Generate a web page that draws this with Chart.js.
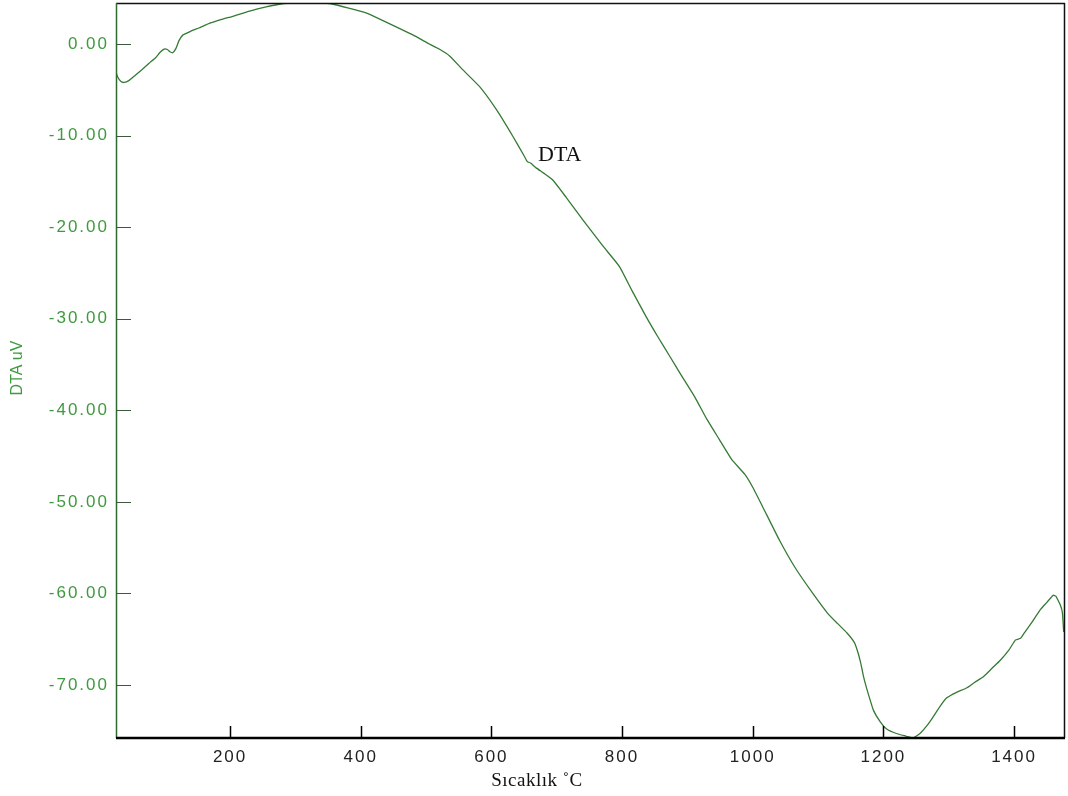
<!DOCTYPE html>
<html>
<head>
<meta charset="utf-8">
<script src="https://cdn.jsdelivr.net/npm/chart.js@4/dist/chart.umd.min.js"></script>
<style>
  html, body { margin: 0; padding: 0; background: #ffffff; }
  #wrap { width: 1068px; height: 796px; }
</style>
</head>
<body>
<div id="wrap"><canvas id="c" width="1068" height="796"></canvas></div>
<script>
// ---- data ----
const temperature = [24, 28, 33, 38, 45, 55, 65, 76, 86, 93, 99, 104, 108, 112, 117, 122, 128, 140, 152, 170, 190, 203, 230, 255, 280, 300, 320, 340, 356, 380, 408, 430, 459, 485, 505, 520, 536, 556, 582, 608, 633, 650, 655, 660, 668, 680, 694, 715, 740, 770, 796, 815, 837, 855, 873, 890, 911, 930, 949, 968, 988, 1000, 1015, 1041, 1065, 1092, 1115, 1130, 1144, 1155, 1160, 1165, 1170, 1177, 1185, 1195, 1205, 1220, 1235, 1245, 1256, 1266, 1276, 1287, 1297, 1312, 1328, 1340, 1353, 1366, 1379, 1392, 1402, 1410, 1414, 1427, 1440, 1450, 1460, 1464, 1467, 1471, 1474, 1476];
const dtaValues = [-2.8, -3.6, -4.1, -4.2, -4.0, -3.4, -2.8, -2.1, -1.5, -0.9, -0.55, -0.6, -0.85, -0.95, -0.5, 0.4, 1.0, 1.4, 1.75, 2.3, 2.75, 3.0, 3.6, 4.05, 4.4, 4.5, 4.55, 4.5, 4.37, 3.95, 3.4, 2.7, 1.7, 0.8, 0.0, -0.55, -1.3, -2.8, -4.66, -7.2, -10.1, -12.2, -12.85, -13.0, -13.5, -14.1, -14.85, -16.8, -19.2, -22.0, -24.3, -26.9, -29.8, -32.0, -34.1, -36.1, -38.5, -41.0, -43.2, -45.4, -47.0, -48.4, -50.5, -54.2, -57.2, -60.0, -62.2, -63.3, -64.3, -65.3, -66.2, -67.5, -69.2, -71.0, -72.8, -74.0, -74.8, -75.3, -75.6, -75.8, -75.3, -74.5, -73.5, -72.3, -71.4, -70.8, -70.3, -69.7, -69.1, -68.2, -67.3, -66.2, -65.1, -64.9, -64.5, -63.2, -61.8, -61.0, -60.2, -60.3, -60.7, -61.3, -62.1, -64.2];
const xTickValues = [200, 400, 600, 800, 1000, 1200, 1400];
const yTickValues = [0, -10, -20, -30, -40, -50, -60, -70];
const xAxisTitle = 'Sıcaklık ˚C';
const yAxisTitle = 'DTA uV';
const curveLabel = 'DTA';

const points = temperature.map((t, i) => ({ x: t, y: dtaValues[i] }));

const GREEN_TEXT = '#3f9a3f';
const LINE_GREEN = '#357a35';

const decorPlugin = {
  id: 'decor',
  beforeDraw(chart) {
    chart.ctx.letterSpacing = '2px';
  },
  afterDraw(chart) {
    const ctx = chart.ctx;
    const a = chart.chartArea;
    const xs = chart.scales.x, ys = chart.scales.y;
    ctx.save();
    ctx.letterSpacing = '0px';
    // top and right border
    ctx.strokeStyle = '#111';
    ctx.lineWidth = 1.5;
    ctx.beginPath();
    ctx.moveTo(a.left, a.top + 0.5); ctx.lineTo(a.right, a.top + 0.5);
    ctx.moveTo(a.right - 0.5, a.top); ctx.lineTo(a.right - 0.5, a.bottom);
    ctx.stroke();
    // left axis (green)
    ctx.strokeStyle = '#2f6a2f';
    ctx.lineWidth = 1.5;
    ctx.beginPath();
    ctx.moveTo(a.left + 0.5, a.top); ctx.lineTo(a.left + 0.5, a.bottom);
    ctx.stroke();
    // y ticks inward
    ctx.strokeStyle = '#3a5a3a';
    ctx.lineWidth = 1;
    ctx.beginPath();
    yTickValues.forEach(v => {
      const py = Math.round(ys.getPixelForValue(v)) + 0.5;
      ctx.moveTo(a.left, py); ctx.lineTo(a.left + 15, py);
    });
    ctx.stroke();
    // bottom axis (black, thick)
    ctx.strokeStyle = '#000';
    ctx.lineWidth = 2.5;
    ctx.beginPath();
    ctx.moveTo(a.left, a.bottom); ctx.lineTo(a.right, a.bottom);
    ctx.stroke();
    // x ticks inward
    ctx.lineWidth = 1.5;
    ctx.beginPath();
    xTickValues.forEach(v => {
      const px = Math.round(xs.getPixelForValue(v)) + 0.5;
      ctx.moveTo(px, a.bottom); ctx.lineTo(px, a.bottom - 12);
    });
    ctx.stroke();
    // curve label
    ctx.fillStyle = '#111';
    ctx.font = '22px "Liberation Serif", "Times New Roman", serif';
    ctx.textAlign = 'left';
    ctx.textBaseline = 'alphabetic';
    ctx.fillText(curveLabel, 538, 161);
    // x axis title
    ctx.font = '19px "Liberation Serif", "Times New Roman", serif';
    ctx.textAlign = 'center';
    ctx.textBaseline = 'middle';
    ctx.fillStyle = '#111';
    ctx.letterSpacing = '0.5px';
    ctx.fillText(xAxisTitle, 537, 781);
    // y axis title
    ctx.translate(18, 368);
    ctx.rotate(-Math.PI / 2);
    ctx.fillStyle = GREEN_TEXT;
    ctx.font = '16px "Liberation Sans", Arial, sans-serif';
    ctx.letterSpacing = '0px';
    ctx.fillText(yAxisTitle, 0, 0);
    ctx.restore();
  }
};

new Chart(document.getElementById('c'), {
  type: 'line',
  data: {
    datasets: [{
      data: points,
      borderColor: LINE_GREEN,
      borderWidth: 1.3,
      pointRadius: 0,
      tension: 0.15,
      fill: false
    }]
  },
  options: {
    responsive: false,
    animation: false,
    devicePixelRatio: 1,
    layout: { padding: { left: 0, right: 3, top: 3, bottom: 0 } },
    plugins: { legend: { display: false }, tooltip: { enabled: false } },
    scales: {
      x: {
        type: 'linear',
        min: 25.4,
        max: 1478,
        grid: { display: false, drawTicks: false },
        border: { display: false },
        afterBuildTicks: s => { s.ticks = xTickValues.map(v => ({ value: v })); },
        afterFit: s => { s.height = 58; s.paddingLeft = 0; s.paddingRight = 0; },
        ticks: {
          color: '#222',
          padding: 9,
          maxRotation: 0,
          autoSkip: false,
          font: { family: '"Liberation Sans", Arial, sans-serif', size: 17 },
          callback: v => String(v)
        }
      },
      y: {
        type: 'linear',
        min: -75.79,
        max: 4.48,
        grid: { display: false, drawTicks: false },
        border: { display: false },
        afterBuildTicks: s => { s.ticks = yTickValues.map(v => ({ value: v })); },
        afterFit: s => { s.width = 116; s.paddingTop = 0; s.paddingBottom = 0; },
        ticks: {
          color: GREEN_TEXT,
          padding: 7,
          autoSkip: false,
          font: { family: '"Liberation Sans", Arial, sans-serif', size: 17 },
          callback: v => Number(v).toFixed(2)
        }
      }
    }
  },
  plugins: [decorPlugin]
});
</script>
</body>
</html>
